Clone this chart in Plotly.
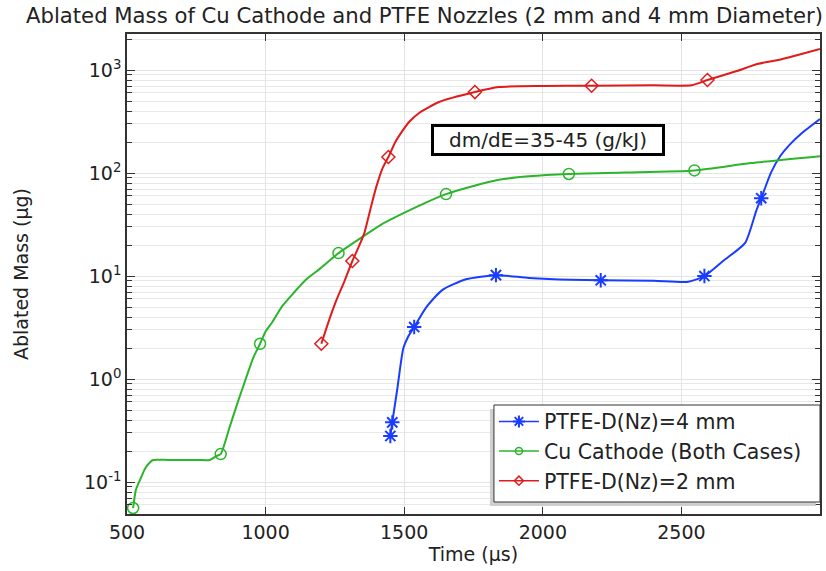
import plotly.graph_objects as go

# ---- data ----
cu_x = [522, 532, 547, 565, 583, 594, 650, 750, 799, 823, 838, 870, 900, 931, 955, 980, 1000, 1025, 1060, 1100, 1147, 1200, 1263, 1349, 1420, 1507, 1580, 1651, 1750, 1842, 1950, 2094, 2300, 2547, 2750, 3000]
cu_y = [0.056, 0.084, 0.105, 0.135, 0.156, 0.164, 0.164, 0.164, 0.164, 0.179, 0.187, 0.34, 0.6, 1.05, 1.6, 2.2, 2.9, 3.6, 5.1, 6.8, 9.3, 12.0, 16.7, 24, 32, 42, 52, 62.5, 75, 86, 93, 98, 101, 106, 125, 146]
cu_mx = [522, 838, 980, 1263, 1651, 2094, 2547]
cu_my = [0.056, 0.187, 2.2, 16.7, 62.5, 98, 106]

p2_x = [1201, 1230, 1255, 1285, 1313, 1335, 1356, 1381, 1399, 1421, 1443, 1468, 1493, 1520, 1554, 1626, 1755, 1842, 2000, 2176, 2400, 2536, 2594, 2700, 2777, 2849, 2920, 3000]
p2_y = [2.2, 3.8, 5.8, 9.0, 14, 19, 26, 48, 73, 110, 143, 200, 255, 318, 383, 489, 611, 683, 700, 705, 710, 712, 800, 980, 1150, 1250, 1400, 1600]
p2_mx = [1201, 1313, 1443, 1755, 2176, 2594]
p2_my = [2.2, 14, 143, 611, 705, 800]

p4_x = [1450, 1457, 1475, 1497, 1515, 1536, 1580, 1637, 1723, 1831, 1950, 2100, 2209, 2400, 2525, 2583, 2650, 2730, 2770, 2788, 2824, 2858, 2890, 2935, 3000]
p4_y = [0.28, 0.38, 0.8, 2.0, 2.6, 3.2, 5.0, 7.3, 9.3, 10.2, 9.6, 9.2, 9.1, 9.0, 8.8, 10, 14, 21, 43, 57, 102, 148, 188, 245, 335]
p4_mx = [1450, 1457, 1536, 1831, 2209, 2583, 2788]
p4_my = [0.28, 0.38, 3.2, 10.2, 9.1, 10, 57]

x_ticks = [500, 1000, 1500, 2000, 2500]
y_ticks = [0.1, 1, 10, 100, 1000]
y_ticktext = ["10<sup>-1</sup>", "10<sup>0</sup>", "10<sup>1</sup>", "10<sup>2</sup>", "10<sup>3</sup>"]

TITLE = "Ablated Mass of Cu Cathode and PTFE Nozzles (2 mm and 4 mm Diameter)"
ANNOT = "dm/dE=35-45 (g/kJ)"

BLUE = "#1a3cff"
GREEN = "#2cb52c"
RED = "#e01b1b"
FONT = "DejaVu Sans"

series = [
    ("PTFE-D(Nz)=4 mm", p4_x, p4_y, p4_mx, p4_my, BLUE, "asterisk-open", 12, 10),
    ("Cu Cathode (Both Cases)", cu_x, cu_y, cu_mx, cu_my, GREEN, "circle-open", 11, 7),
    ("PTFE-D(Nz)=2 mm", p2_x, p2_y, p2_mx, p2_my, RED, "diamond-open", 10, 7),
]

fig = go.Figure()
for name, x, y, mx, my, col, sym, ms, lms in series:
    lw = 2 if sym.startswith("asterisk") else 1.5
    fig.add_trace(go.Scatter(x=x, y=y, mode="lines", line=dict(color=col, width=2, shape="spline", smoothing=0.6),
                             showlegend=False, hoverinfo="skip"))
    fig.add_trace(go.Scatter(x=mx, y=my, mode="markers",
                             marker=dict(symbol=sym, size=ms, color=col, line=dict(color=col, width=lw)),
                             showlegend=False))
    fig.add_trace(go.Scatter(x=[None], y=[None], mode="lines+markers", name=name,
                             line=dict(color=col, width=1.5),
                             marker=dict(symbol=sym, size=lms, color=col, line=dict(color=col, width=lw))))

minor_vals = [k * 10 ** e for e in range(-2, 4) for k in range(2, 10)]

# legend frame + drop shadow (paper coords)
PW, PH = 695.0, 480.0
def px(v):
    return (v - 127) / PW
def py(v):
    return (514 - v) / PH

fig.update_layout(
    width=826, height=571,
    margin=dict(l=127, r=4, t=34, b=57),
    paper_bgcolor="white", plot_bgcolor="white",
    font=dict(family=FONT, size=19, color="#222"),
    title=dict(text=TITLE, x=0.514, xanchor="center", y=0.985, yanchor="top",
               font=dict(family=FONT, size=21.2, color="#222")),
    xaxis=dict(range=[500, 3000], tickvals=x_ticks, ticks="inside", ticklen=7, tickcolor="#333",
               showline=True, linecolor="#333", linewidth=1.5, mirror="ticks",
               showgrid=True, gridcolor="#e3e3e3", gridwidth=1, zeroline=False,
               title=dict(text="Time (µs)", font=dict(size=19), standoff=2),
               tickfont=dict(size=19)),
    yaxis=dict(type="log", range=[-1.31, 3.35], tickvals=y_ticks, ticktext=y_ticktext,
               ticks="inside", ticklen=8, tickcolor="#333",
               showline=True, linecolor="#333", linewidth=1.5, mirror="ticks",
               showgrid=True, gridcolor="#e3e3e3", gridwidth=1, zeroline=False,
               minor=dict(tickvals=minor_vals, ticks="inside", ticklen=5, tickcolor="#333",
                          showgrid=True, gridcolor="#e8e8e8", gridwidth=1),
               title=dict(text="Ablated Mass (µg)", font=dict(size=19), standoff=50),
               tickfont=dict(size=19)),
    legend=dict(x=px(495), xanchor="left", y=0.028, yanchor="bottom", bgcolor="rgba(0,0,0,0)",
                borderwidth=0, font=dict(size=20.5, color="#222"),
                tracegroupgap=0, itemwidth=40),
    shapes=[
        dict(type="rect", xref="paper", yref="paper", x0=px(491), x1=px(818), y0=py(506), y1=py(409),
             fillcolor="#c4c4c4", opacity=0.8, line=dict(width=0), layer="above"),
        dict(type="rect", xref="paper", yref="paper", x0=px(495), x1=px(822), y0=py(502), y1=py(405),
             fillcolor="white", line=dict(color="#333", width=1), layer="above"),
    ],
    annotations=[dict(x=2018, y=2.32, xref="x", yref="y", text=ANNOT, showarrow=False,
                      font=dict(size=20, color="#222"), bgcolor="white",
                      bordercolor="black", borderwidth=3, borderpad=2, width=224, height=22)],
)

fig.write_html("out.html")
